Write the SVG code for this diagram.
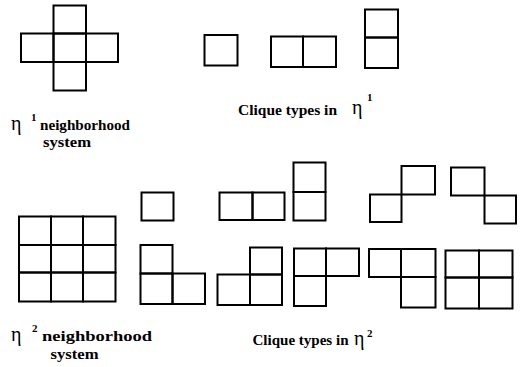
<svg xmlns="http://www.w3.org/2000/svg" width="526" height="367" viewBox="0 0 526 367">
<style>
rect{fill:none;stroke:#000;stroke-width:2}
text{font-family:"Liberation Serif","DejaVu Serif",serif;fill:#000}
.lbl{font-size:14px;font-weight:bold}
.gr{font-size:20px}
.sup{font-size:11px;font-weight:bold}
</style>
<rect x="0" y="0" width="526" height="367" style="fill:#fff;stroke:none"/>
<g id="eta1-system">
<rect x="53.5" y="5.5" width="32.5" height="28"/>
<rect x="21" y="33.5" width="32.5" height="28.5"/>
<rect x="53.5" y="33.5" width="32.5" height="28.5"/>
<rect x="86" y="33.5" width="32" height="28.5"/>
<rect x="53.5" y="62" width="32.5" height="28.5"/>
</g>
<g id="eta1-clique-single"><rect x="204.5" y="35" width="33" height="30.5"/></g>
<g id="eta1-clique-horizontal">
<rect x="271" y="36.5" width="32" height="30.5"/>
<rect x="303" y="36.5" width="33" height="30.5"/>
</g>
<g id="eta1-clique-vertical">
<rect x="365" y="9.5" width="33" height="28"/>
<rect x="365" y="37.5" width="33" height="30.5"/>
</g>
<g id="eta2-system">
<rect x="19" y="216.5" width="32" height="28.5"/>
<rect x="51" y="216.5" width="32" height="28.5"/>
<rect x="83" y="216.5" width="32.5" height="28.5"/>
<rect x="19" y="245" width="32" height="27.5"/>
<rect x="51" y="245" width="32" height="27.5"/>
<rect x="83" y="245" width="32.5" height="27.5"/>
<rect x="19" y="272.5" width="32" height="29"/>
<rect x="51" y="272.5" width="32" height="29"/>
<rect x="83" y="272.5" width="32.5" height="29"/>
</g>
<g id="eta2-clique-single"><rect x="141.5" y="192.5" width="32" height="28"/></g>
<g id="eta2-clique-horizontal">
<rect x="219.5" y="192.5" width="33" height="27.5"/>
<rect x="252.5" y="192.5" width="32" height="27.5"/>
</g>
<g id="eta2-clique-vertical">
<rect x="293.5" y="162.5" width="32" height="29.5"/>
<rect x="293.5" y="192" width="32" height="28.5"/>
</g>
<g id="eta2-clique-diagonal">
<rect x="401.5" y="166" width="33.5" height="28.5"/>
<rect x="370" y="194.5" width="31.5" height="27.5"/>
</g>
<g id="eta2-clique-antidiagonal">
<rect x="451" y="167.5" width="33.5" height="28"/>
<rect x="484.5" y="195.5" width="31.5" height="28"/>
</g>
<g id="eta2-clique-L1">
<rect x="140.5" y="245" width="32" height="28.5"/>
<rect x="140.5" y="273.5" width="32" height="30.5"/>
<rect x="172.5" y="273.5" width="32.5" height="30.5"/>
</g>
<g id="eta2-clique-L2">
<rect x="250" y="247.5" width="32" height="27"/>
<rect x="217.5" y="274.5" width="32.5" height="30.5"/>
<rect x="250" y="274.5" width="32" height="30.5"/>
</g>
<g id="eta2-clique-L3">
<rect x="294" y="248.5" width="32" height="27.5"/>
<rect x="326" y="248.5" width="33" height="27.5"/>
<rect x="294" y="276" width="32" height="30"/>
</g>
<g id="eta2-clique-L4">
<rect x="369" y="249" width="32" height="28"/>
<rect x="401" y="249" width="34.5" height="28"/>
<rect x="401" y="277" width="34.5" height="30.5"/>
</g>
<g id="eta2-clique-square">
<rect x="445.5" y="250.5" width="33.5" height="27"/>
<rect x="479" y="250.5" width="33.5" height="27"/>
<rect x="445.5" y="277.5" width="33.5" height="31"/>
<rect x="479" y="277.5" width="33.5" height="31"/>
</g>
<g id="connectors"/>
<g id="labels">
<text class="gr" x="11" y="130">η</text>
<text class="sup" x="31" y="121">1</text>
<text class="lbl" x="40" y="130" textLength="90" lengthAdjust="spacingAndGlyphs">neighborhood</text>
<text class="lbl" x="43" y="147" textLength="48" lengthAdjust="spacingAndGlyphs">system</text>
<text class="lbl" x="238" y="115" textLength="99" lengthAdjust="spacingAndGlyphs">Clique types in</text>
<text class="gr" x="352" y="114">η</text>
<text class="sup" x="367" y="101">1</text>
<text class="gr" x="11" y="341">η</text>
<text class="sup" x="32" y="332">2</text>
<text class="lbl" x="42" y="341" textLength="110" lengthAdjust="spacingAndGlyphs">neighborhood</text>
<text class="lbl" x="50.5" y="359" textLength="48" lengthAdjust="spacingAndGlyphs">system</text>
<text class="lbl" x="252.5" y="345" textLength="96" lengthAdjust="spacingAndGlyphs">Clique types in</text>
<text class="gr" x="354" y="345">η</text>
<text class="sup" x="367" y="337">2</text>
</g>
</svg>
